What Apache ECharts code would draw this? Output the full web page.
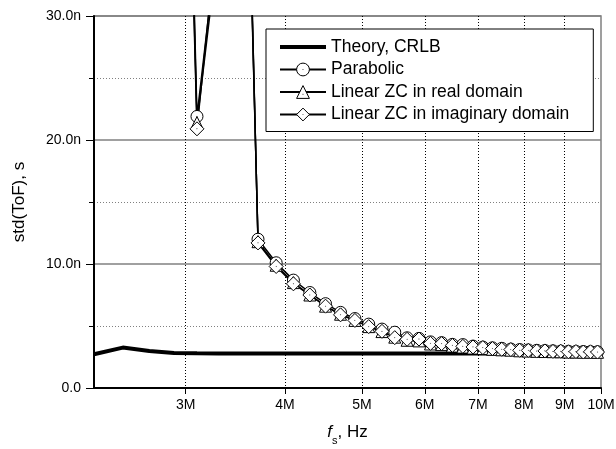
<!DOCTYPE html>
<html><head><meta charset="utf-8">
<script src="https://cdn.jsdelivr.net/npm/echarts@6/dist/echarts.min.js"></script>
<style>html,body{margin:0;padding:0;background:#fff}#c{width:616px;height:449px}</style>
</head><body><div id="c"></div>
<script>
// Sampling frequency, MHz
const fsMHz = [2.3,2.5,2.7,2.9,3.1,3.3,3.5,3.7,3.9,4.1,4.3,4.5,4.7,4.9,5.1,5.3,5.5,5.7,5.9,6.1,6.3,6.5,6.7,6.9,7.1,7.3,7.5,7.7,7.9,8.1,8.3,8.5,8.7,8.9,9.1,9.3,9.5,9.7,9.9];
// std(ToF), ns
const theoryNs = [2.72,3.26,2.98,2.83,2.80,2.79,2.79,2.78,2.78,2.78,2.78,2.78,2.78,2.78,2.78,2.78,2.78,2.78,2.78,2.78,2.78,2.78,2.78,2.78,2.78,2.78,2.78,2.78,2.78,2.78,2.78,2.78,2.78,2.78,2.78,2.78,2.78,2.78,2.78];
const parabolicNs = [310,260,190,96,21.9,37,71,12.0,10.1,8.7,7.7,6.8,6.1,5.6,5.15,4.75,4.5,4.05,4.0,3.72,3.66,3.52,3.5,3.38,3.3,3.24,3.2,3.14,3.1,3.07,3.04,3.02,3.0,2.98,2.96,2.95,2.94,2.93,2.92];
const linRealNs = [305,255,185,92,21.4,36,73,11.8,9.9,8.5,7.5,6.6,5.95,5.45,4.95,4.55,4.1,3.85,3.8,3.55,3.5,3.38,3.3,3.22,3.18,3.12,3.08,3.05,3.0,2.98,2.96,2.94,2.93,2.92,2.9,2.9,2.89,2.89,2.88];
const linImagNs = [300,250,180,90,20.9,38,74,11.7,9.8,8.4,7.5,6.6,5.9,5.45,4.95,4.57,4.06,3.93,3.95,3.6,3.58,3.44,3.36,3.31,3.26,3.18,3.12,3.1,3.04,3.03,2.98,2.99,2.95,2.96,2.92,2.94,2.9,2.92,2.9];
const xTickMHz = [3,4,5,6,7,8,9,10];
const xGridMHz = [3,4,5,6,7,8,9];
const seriesNames = ['Theory, CRLB','Parabolic','Linear ZC in real domain','Linear ZC in imaginary domain'];

const pairs = arr => fsMHz.map((f, i) => [f * 1e6, arr[i]]);
const FONT = 'Liberation Sans, Arial, sans-serif';
// marker outlines with a tiny centre dot (as in the original plot)
const DOT = ' M-0.1,-0.1 L0.1,-0.1 L0.1,0.1 L-0.1,0.1 Z';
const SYM_CIRCLE = 'path://M-6,0 A6,6 0 1,0 6,0 A6,6 0 1,0 -6,0 Z' + DOT;
const SYM_TRIANGLE = 'path://M0,-6 L6,6 L-6,6 Z M-0.1,1.9 L0.1,1.9 L0.1,2.1 L-0.1,2.1 Z';
const SYM_DIAMOND = 'path://M0,-7 L7,0 L0,7 L-7,0 Z' + DOT;
const ICON_THICK = 'path://M0,0 L0,0.01 M0,6 L46,6 L46,10 L0,10 Z M46,16 L46,15.99';

const chart = echarts.init(document.getElementById('c'), null, {renderer: 'canvas'});
const markerSeries = (name, arr, symbol, size) => ({
  name, type: 'line', data: pairs(arr), symbol, symbolSize: size,
  showAllSymbol: true, clip: true,
  lineStyle: {color: '#000', width: 1.5},
  itemStyle: {color: '#fff', borderColor: '#000', borderWidth: 1},
  emphasis: {disabled: true}
});
chart.setOption({
  animation: false,
  textStyle: {fontFamily: FONT, color: '#000'},
  grid: {left: 94, right: 15, top: 16, bottom: 61, show: true, borderColor: '#808080', borderWidth: 1.5, containLabel: false, outerBoundsMode: 'none'},
  legend: {
    orient: 'vertical', left: 266, top: 29,
    itemWidth: 46, itemHeight: 16, itemGap: 4.5,
    padding: [9, 24, 8, 13],
    borderColor: '#000', borderWidth: 1, backgroundColor: '#fff', borderRadius: 0,
    textStyle: {fontSize: 17.5, color: '#000', fontFamily: FONT},
    itemStyle: {borderWidth: 1, borderColor: '#000', color: '#fff'},
    lineStyle: {width: 2, color: '#000'},
    data: [
      {name: seriesNames[0], icon: ICON_THICK, itemStyle: {color: '#000', borderWidth: 0}},
      seriesNames[1], seriesNames[2], seriesNames[3]
    ]
  },
  xAxis: [{
    type: 'log', logBase: 10, min: 2.3e6, max: 1e7,
    axisLine: {show: true, onZero: false, lineStyle: {color: '#000', width: 2}},
    axisTick: {show: true, customValues: xTickMHz.map(v => v * 1e6), length: 6, lineStyle: {color: '#000', width: 1}},
    axisLabel: {customValues: xTickMHz.map(v => v * 1e6), formatter: v => Math.round(v / 1e6) + 'M', fontSize: 14, color: '#000', margin: 10, fontFamily: FONT},
    splitLine: {show: false},
    minorTick: {show: false},
    name: '{i|f}{s|s}{n|, Hz}', nameLocation: 'middle', nameGap: 30,
    nameTextStyle: {
      rich: {
        i: {fontSize: 17, fontStyle: 'italic', fontFamily: FONT, color: '#000', lineHeight: 28, verticalAlign: 'middle'},
        s: {fontSize: 11, fontFamily: FONT, color: '#000', lineHeight: 12, verticalAlign: 'bottom'},
        n: {fontSize: 17, fontFamily: FONT, color: '#000', lineHeight: 28, verticalAlign: 'middle'}
      }
    }
  }, {
    type: 'log', logBase: 10, min: 2.3e6, max: 1e7, position: 'bottom',
    axisLine: {show: false}, axisLabel: {show: false},
    axisTick: {show: false, customValues: xGridMHz.map(v => v * 1e6)},
    splitLine: {show: true, lineStyle: {color: '#000', width: 1, type: [1, 2]}}
  }],
  yAxis: {
    type: 'value', min: 0, max: 30, interval: 10,
    axisLine: {show: true, lineStyle: {color: '#000', width: 2}},
    axisTick: {show: true, length: 8, lineStyle: {color: '#000', width: 1}},
    minorTick: {show: true, splitNumber: 2, length: 5, lineStyle: {color: '#000', width: 1}},
    splitLine: {show: true, lineStyle: {color: '#808080', width: 1.5}},
    minorSplitLine: {show: true, lineStyle: {color: '#808080', width: 1, type: [1, 2]}},
    axisLabel: {formatter: v => v === 0 ? '0.0' : v.toFixed(1) + 'n', fontSize: 14, color: '#000', margin: 13, fontFamily: FONT},
    name: 'std(ToF), s', nameLocation: 'middle', nameGap: 66,
    nameTextStyle: {fontSize: 17, color: '#000', fontFamily: FONT}
  },
  series: [
    {name: seriesNames[0], type: 'line', data: pairs(theoryNs), symbol: 'none', clip: true,
     lineStyle: {color: '#000', width: 4}, itemStyle: {color: '#000'}, emphasis: {disabled: true}},
    markerSeries(seriesNames[1], parabolicNs, SYM_CIRCLE, 12),
    markerSeries(seriesNames[2], linRealNs, SYM_TRIANGLE, 12),
    markerSeries(seriesNames[3], linImagNs, SYM_DIAMOND, 14)
  ]
});
</script></body></html>
